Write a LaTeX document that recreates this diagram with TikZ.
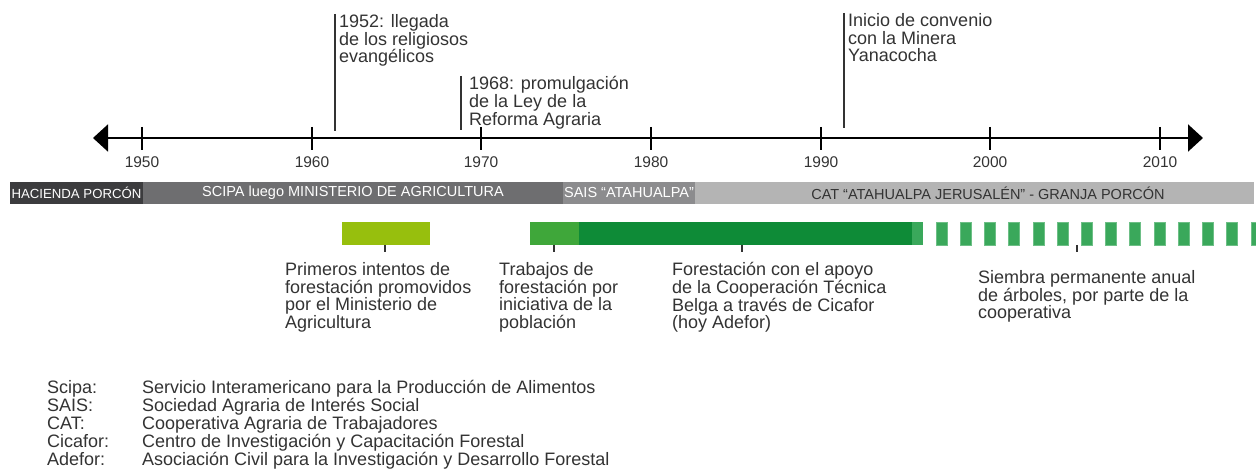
\documentclass[tikz,border=0pt]{standalone}
\usepackage{fontspec}
\setmainfont{Liberation Sans}
\usetikzlibrary{arrows.meta}

\definecolor{textgray}{HTML}{333333}
\definecolor{haciendagray}{HTML}{3C3C3E}
\definecolor{scipagray}{HTML}{6E6E70}
\definecolor{saisgray}{HTML}{8C8C8E}
\definecolor{catgray}{HTML}{B4B4B4}
\definecolor{earlygreen}{HTML}{97BF0D}
\definecolor{midgreen}{HTML}{3FA73A}
\definecolor{deepgreen}{HTML}{0E8B37}
\definecolor{yearlygreen}{HTML}{3AA85B}
\definecolor{yearlyedge}{HTML}{6DBF86}

\begin{document}
\begin{tikzpicture}[x = 1pt, y = -1pt,
	note/.style = {anchor = north west, inner sep = 0, align = left, text = textgray, font = {\fontsize{18}{17.8}\selectfont}},
	bartext/.style = {inner sep = 0, font = {\fontsize{14.5}{14.5}\selectfont}},
	yearlabel/.style = {inner sep = 0, text = textgray, font = {\fontsize{15.5}{15.5}\selectfont}},
	eventline/.style = {line width = 1.2pt, textgray},
	yearly/.style = {fill = yearlygreen, draw = yearlyedge, line width = 0.8pt}]

	\useasboundingbox (0, 0) rectangle (1256, 470);

	% Axis
	
	\draw [line width = 2pt, {Triangle[length = 15pt, width = 27pt]}-{Triangle[length = 15pt, width = 27pt]}] (93, 138) -- (1203, 138);

	% Years
	
	\draw [line width = 2pt] (142, 127) -- (142, 150) node [yearlabel, below = 6pt] (y1950) {1950};
	\draw [line width = 2pt] (312, 127) -- (312, 150) node [yearlabel, below = 6pt] (y1960) {1960};
	\draw [line width = 2pt] (481, 127) -- (481, 150) node [yearlabel, below = 6pt] (y1970) {1970};
	\draw [line width = 2pt] (651, 127) -- (651, 150) node [yearlabel, below = 6pt] (y1980) {1980};
	\draw [line width = 2pt] (821, 127) -- (821, 150) node [yearlabel, below = 6pt] (y1990) {1990};
	\draw [line width = 2pt] (990, 127) -- (990, 150) node [yearlabel, below = 6pt] (y2000) {2000};
	\draw [line width = 2pt] (1160, 127) -- (1160, 150) node [yearlabel, below = 6pt] (y2010) {2010};

	% Events
	
	\node [note] (llegada) at (339, 14) {1952: llegada\\de los religiosos\\evangélicos};
	\draw [eventline] ([xshift = -4pt] llegada.north west) -- ++(0, 117);
	
	\node [note] (reforma) at (469, 76) {1968: promulgación\\de la Ley de la\\Reforma Agraria};
	\draw [eventline] ([xshift = -8pt] reforma.north west) -- ++(0, 54);
	
	\node [note] (minera) at (848, 13) {Inicio de convenio\\con la Minera\\Yanacocha};
	\draw [eventline] ([xshift = -4pt] minera.north west) -- ++(0, 115);

	% Periods
	
	\fill [haciendagray] (10, 182) rectangle (143, 204);
	\node [bartext, white, font = {\fontsize{13.2}{13.2}\selectfont}] (hacienda) at (76.5, 193) {HACIENDA PORCÓN};
	
	\fill [scipagray] (143, 182) rectangle (563, 204);
	\node [bartext, white] (scipa) at (353, 193) {SCIPA luego MINISTERIO DE AGRICULTURA};
	
	\fill [saisgray] (563, 182) rectangle (695, 204);
	\node [bartext, white] (sais) at (629, 193) {SAIS “ATAHUALPA”};
	
	\fill [catgray] (695, 182) rectangle (1254, 204);
	\node [bartext, textgray] (cat) at (988, 193) {CAT “ATAHUALPA JERUSALÉN” - GRANJA PORCÓN};

	% Forestation
	
	\fill [earlygreen] (342, 222) rectangle (430, 245);
	\fill [midgreen] (530, 222) rectangle (579, 245);
	\fill [deepgreen] (579, 222) rectangle (912, 245);
	\fill [yearlygreen] (912, 222) rectangle (923, 245);
	
	\draw [yearly] (936, 222) rectangle ++(11, 23);
	\draw [yearly] (960.2, 222) rectangle ++(11, 23);
	\draw [yearly] (984.5, 222) rectangle ++(11, 23);
	\draw [yearly] (1008.7, 222) rectangle ++(11, 23);
	\draw [yearly] (1032.9, 222) rectangle ++(11, 23);
	\draw [yearly] (1057.2, 222) rectangle ++(11, 23);
	\draw [yearly] (1081.4, 222) rectangle ++(11, 23);
	\draw [yearly] (1105.6, 222) rectangle ++(11, 23);
	\draw [yearly] (1129.8, 222) rectangle ++(11, 23);
	\draw [yearly] (1154.1, 222) rectangle ++(11, 23);
	\draw [yearly] (1178.3, 222) rectangle ++(11, 23);
	\draw [yearly] (1202.5, 222) rectangle ++(11, 23);
	\draw [yearly] (1226.8, 222) rectangle ++(11, 23);
	\draw [yearly] (1251, 222) rectangle ++(11, 23);

	% Descriptions
	
	\node [note] (primeros) at (285, 262) {Primeros intentos de\\forestación promovidos\\por el Ministerio de\\Agricultura};
	\draw [eventline] (385, 245) -- (385, 252);
	
	\node [note] (trabajos) at (499, 262) {Trabajos de\\forestación por\\iniciativa de la\\población};
	\draw [eventline] (554, 245) -- (554, 252);
	
	\node [note] (belga) at (672, 262) {Forestación con el apoyo\\de la Cooperación Técnica\\Belga a través de Cicafor\\(hoy Adefor)};
	\draw [eventline] (742, 245) -- (742, 252);
	
	\node [note] (siembra) at (978, 270) {Siembra permanente anual\\de árboles, por parte de la\\cooperativa};
	\draw [eventline] (1077, 245) -- (1077, 252);

	% Legend
	
	\node [note, font = {\fontsize{18}{18}\selectfont}] (siglas) at (47, 380) {Scipa:\\SAIS:\\CAT:\\Cicafor:\\Adefor:};
	\node [note, font = {\fontsize{18}{18}\selectfont}] (significados) at (142, 380) {Servicio Interamericano para la Producción de Alimentos\\Sociedad Agraria de Interés Social\\Cooperativa Agraria de Trabajadores\\Centro de Investigación y Capacitación Forestal\\Asociación Civil para la Investigación y Desarrollo Forestal};

\end{tikzpicture}
\end{document}
